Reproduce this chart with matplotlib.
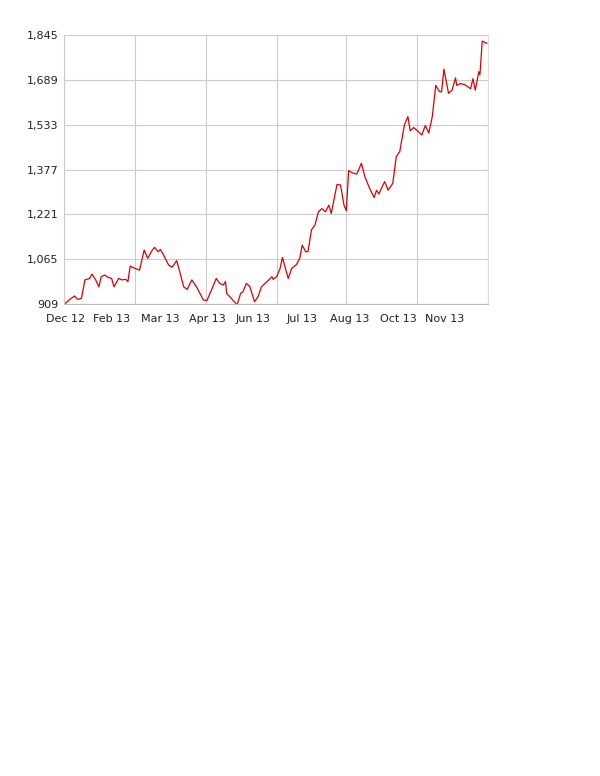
import matplotlib
matplotlib.use("Agg")
import matplotlib.pyplot as plt

# day offset from start of series, index value
days = [1, 5, 9, 12, 15, 18, 22, 24, 27, 30, 32, 35, 38, 41, 43, 47, 50, 53, 55, 57,
        61, 65, 69, 72, 76, 78, 81, 83, 85, 90, 93, 97, 100, 103, 106, 110, 114, 120,
        123, 127, 131, 134, 137, 139, 140, 144, 149, 152, 154, 157, 160, 164, 167, 170,
        179, 180, 183, 186, 188, 191, 193, 196, 200, 203, 205, 208, 210, 213, 216, 219,
        222, 225, 228, 230, 235, 238, 241, 243, 245, 248, 252, 256, 259, 263, 267, 269,
        271, 276, 279, 283, 286, 289, 293, 296, 298, 301, 305, 308, 311, 314, 317, 320,
        323, 325, 327, 331, 334, 337, 338, 341, 345, 350, 352, 354, 357, 358, 360, 364]
values = [911, 925, 937, 925, 929, 993, 998, 1013, 995, 969, 1004, 1010, 1002, 998, 969,
          998, 993, 995, 987, 1041, 1033, 1027, 1097, 1068, 1097, 1106, 1091, 1099, 1085,
          1045, 1037, 1060, 1016, 969, 960, 993, 969, 923, 921, 958, 998, 981, 975, 987,
          946, 929, 906, 946, 952, 981, 969, 917, 935, 969,
          1004, 995, 1004, 1033, 1071, 1027, 998, 1033, 1046, 1069, 1114, 1091, 1091, 1167,
          1184, 1230, 1241, 1230, 1253, 1224, 1325, 1323, 1253, 1234, 1373, 1366, 1361,
          1399, 1352, 1312, 1279, 1305, 1292, 1335, 1305, 1329, 1422, 1439, 1532, 1561,
          1512, 1523, 1509, 1497, 1530, 1504, 1561, 1670, 1649, 1647, 1726, 1642, 1653,
          1696, 1670, 1676, 1672, 1658, 1693, 1653, 1717, 1706, 1824, 1816]

yticks = [909, 1065, 1221, 1377, 1533, 1689, 1845]
month_labels = ["Dec 12", "Feb 13", "Mar 13", "Apr 13", "Jun 13", "Jul 13", "Aug 13", "Oct 13", "Nov 13"]
month_pos = [1, 41, 83, 123, 163, 205, 246, 288, 328]
grid_x = [0, 61, 122, 183, 243, 304, 365]

fig = plt.figure(figsize=(6, 7.76), dpi=100)
ax = fig.add_axes([0.1067, 0.6082, 0.7067, 0.3467])

for gx in grid_x:
    ax.axvline(gx, color="#cccccc", lw=0.8, zorder=0)
for gy in yticks:
    ax.axhline(gy, color="#cccccc", lw=0.8, zorder=0)

ax.plot(days, values, color="#dd0000", lw=0.9)

ax.set_xlim(0, 365)
ax.set_ylim(909, 1845)
ax.set_yticks(yticks)
ax.set_yticklabels([f"{v:,}" for v in yticks])
ax.set_xticks(month_pos)
ax.set_xticklabels(month_labels)
ax.tick_params(length=0, labelsize=8, colors="#222222")
ax.tick_params(axis="x", pad=7)
ax.tick_params(axis="y", pad=4)
ax.spines["top"].set_visible(False)
ax.spines["right"].set_color("#dddddd")
ax.spines["left"].set_color("#cccccc")
ax.spines["bottom"].set_color("#bbbbbb")

fig.savefig("out.png", dpi=100)
